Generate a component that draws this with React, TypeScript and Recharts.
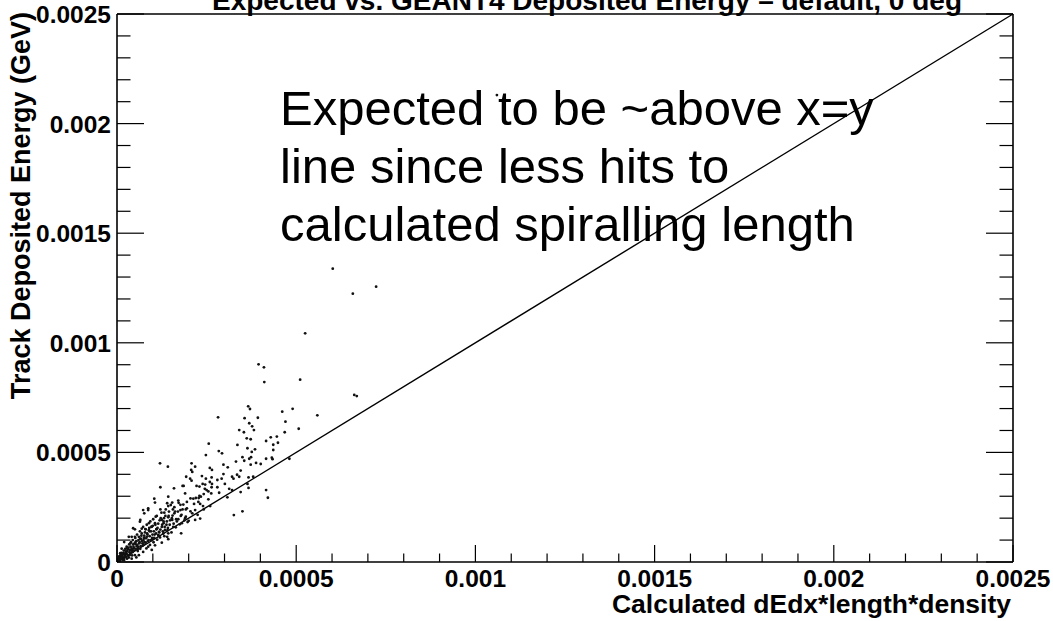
import React from "react";
import { ScatterChart, Scatter, XAxis, YAxis, ReferenceLine } from "recharts";

// hits spread far from the main band (GeV, GeV)
const sparseHits: [number, number][] = [
  [1060e-6, 2130e-6], [602e-6, 1338e-6], [723e-6, 1256e-6], [658e-6, 1224e-6],
  [525e-6, 1043e-6], [395e-6, 902e-6], [410e-6, 888e-6], [411e-6, 821e-6],
  [511e-6, 832e-6], [662e-6, 762e-6], [669e-6, 757e-6], [371e-6, 698e-6],
  [393e-6, 658e-6], [461e-6, 686e-6], [490e-6, 699e-6], [559e-6, 669e-6],
];

// upper part of the band, 0.0002 - 0.0005 GeV
const bandHits: [number, number][] = [
  [366e-6, 710e-6], [282e-6, 660e-6], [356e-6, 656e-6], [369e-6, 633e-6], [377e-6, 619e-6],
  [341e-6, 602e-6], [354e-6, 592e-6], [382e-6, 602e-6], [470e-6, 640e-6], [468e-6, 592e-6],
  [507e-6, 608e-6], [362e-6, 564e-6], [373e-6, 560e-6], [429e-6, 569e-6], [446e-6, 572e-6],
  [416e-6, 552e-6], [436e-6, 535e-6], [449e-6, 544e-6], [336e-6, 534e-6], [256e-6, 540e-6],
  [364e-6, 519e-6], [385e-6, 514e-6], [436e-6, 511e-6], [284e-6, 506e-6], [293e-6, 496e-6],
  [248e-6, 488e-6], [376e-6, 502e-6], [350e-6, 478e-6], [374e-6, 478e-6], [369e-6, 471e-6],
  [432e-6, 476e-6], [434e-6, 469e-6], [416e-6, 471e-6], [481e-6, 471e-6], [332e-6, 458e-6],
  [355e-6, 462e-6], [388e-6, 452e-6], [401e-6, 447e-6], [373e-6, 444e-6], [297e-6, 444e-6],
  [208e-6, 450e-6], [218e-6, 435e-6], [207e-6, 420e-6], [259e-6, 429e-6], [265e-6, 420e-6],
  [309e-6, 432e-6], [345e-6, 417e-6], [335e-6, 398e-6], [341e-6, 389e-6], [321e-6, 389e-6],
  [325e-6, 380e-6], [297e-6, 401e-6], [292e-6, 380e-6], [237e-6, 392e-6], [248e-6, 380e-6],
  [280e-6, 374e-6], [367e-6, 386e-6], [380e-6, 389e-6], [204e-6, 380e-6], [259e-6, 365e-6],
  [265e-6, 356e-6], [239e-6, 356e-6], [230e-6, 344e-6], [222e-6, 347e-6], [250e-6, 328e-6],
  [245e-6, 334e-6], [264e-6, 341e-6], [280e-6, 341e-6], [301e-6, 356e-6], [313e-6, 334e-6],
  [321e-6, 328e-6], [364e-6, 356e-6], [367e-6, 338e-6], [416e-6, 328e-6], [285e-6, 316e-6],
  [263e-6, 313e-6], [234e-6, 298e-6], [228e-6, 292e-6], [308e-6, 295e-6], [345e-6, 319e-6],
  [421e-6, 293e-6], [213e-6, 289e-6], [326e-6, 214e-6], [350e-6, 231e-6],
  [120e-6, 450e-6], [142e-6, 435e-6], [159e-6, 336e-6], [183e-6, 347e-6],
];

// low-energy core near the origin
const coreHits: [number, number][] = [
  [210e-6, 411e-6], [193e-6, 389e-6], [264e-6, 386e-6], [186e-6, 347e-6], [208e-6, 371e-6],
  [246e-6, 353e-6], [121e-6, 341e-6], [143e-6, 298e-6], [190e-6, 313e-6], [242e-6, 310e-6],
  [255e-6, 322e-6], [104e-6, 289e-6], [106e-6, 271e-6], [140e-6, 268e-6], [154e-6, 271e-6],
  [171e-6, 280e-6], [177e-6, 261e-6], [195e-6, 274e-6], [220e-6, 292e-6], [227e-6, 274e-6],
  [232e-6, 265e-6], [255e-6, 286e-6], [87e-6, 237e-6], [121e-6, 240e-6], [132e-6, 225e-6],
  [143e-6, 255e-6], [156e-6, 240e-6], [160e-6, 222e-6], [177e-6, 237e-6], [192e-6, 240e-6],
  [205e-6, 231e-6], [218e-6, 237e-6], [242e-6, 240e-6], [260e-6, 255e-6], [76e-6, 222e-6],
  [65e-6, 192e-6], [108e-6, 207e-6], [89e-6, 177e-6], [106e-6, 177e-6], [125e-6, 192e-6],
  [130e-6, 177e-6], [143e-6, 204e-6], [154e-6, 192e-6], [171e-6, 195e-6], [181e-6, 177e-6],
  [192e-6, 207e-6], [197e-6, 182e-6], [218e-6, 192e-6], [232e-6, 198e-6], [164e-6, 158e-6],
  [50e-6, 149e-6], [69e-6, 152e-6], [80e-6, 149e-6], [91e-6, 140e-6], [97e-6, 161e-6],
  [110e-6, 149e-6], [117e-6, 137e-6], [134e-6, 146e-6], [143e-6, 131e-6], [140e-6, 115e-6],
  [179e-6, 131e-6], [143e-6, 104e-6], [115e-6, 123e-6], [33e-6, 115e-6], [50e-6, 115e-6],
  [65e-6, 106e-6], [83e-6, 115e-6], [97e-6, 100e-6], [20e-6, 91e-6], [37e-6, 85e-6],
  [52e-6, 82e-6], [74e-6, 79e-6], [87e-6, 70e-6], [106e-6, 76e-6], [125e-6, 88e-6],
  [13e-6, 61e-6], [28e-6, 64e-6], [43e-6, 55e-6], [59e-6, 61e-6], [73e-6, 46e-6],
  [97e-6, 55e-6], [9e-6, 40e-6], [22e-6, 36e-6], [35e-6, 31e-6], [50e-6, 31e-6],
  [61e-6, 31e-6], [6e-6, 18e-6], [17e-6, 21e-6], [28e-6, 15e-6], [41e-6, 15e-6],
  [54e-6, 21e-6], [8e-6, 6e-6], [20e-6, 9e-6], [73e-6, 237e-6], [87e-6, 245e-6],
  [64e-6, 184e-6], [45e-6, 154e-6], [41e-6, 115e-6],
];

// densest cluster, below 0.0002 GeV
const denseHits: [number, number][] = [
  [5e-6, 12e-6], [10e-6, 22e-6], [12e-6, 30e-6], [15e-6, 10e-6], [18e-6, 40e-6],
  [22e-6, 28e-6], [25e-6, 48e-6], [28e-6, 35e-6], [30e-6, 58e-6], [33e-6, 20e-6],
  [35e-6, 45e-6], [38e-6, 70e-6], [40e-6, 52e-6], [42e-6, 30e-6], [45e-6, 80e-6],
  [48e-6, 62e-6], [52e-6, 92e-6], [55e-6, 72e-6], [58e-6, 50e-6], [60e-6, 100e-6],
  [62e-6, 85e-6], [65e-6, 60e-6], [68e-6, 120e-6], [70e-6, 95e-6], [72e-6, 75e-6],
  [75e-6, 110e-6], [78e-6, 135e-6], [80e-6, 88e-6], [82e-6, 62e-6], [85e-6, 125e-6],
  [88e-6, 100e-6], [90e-6, 155e-6], [92e-6, 78e-6], [95e-6, 140e-6], [98e-6, 110e-6],
  [100e-6, 165e-6], [102e-6, 90e-6], [105e-6, 125e-6], [110e-6, 150e-6], [112e-6, 102e-6],
  [115e-6, 175e-6], [118e-6, 135e-6], [120e-6, 112e-6], [122e-6, 200e-6], [125e-6, 160e-6],
  [128e-6, 140e-6], [130e-6, 185e-6], [132e-6, 118e-6], [135e-6, 210e-6], [138e-6, 170e-6],
  [142e-6, 155e-6], [145e-6, 230e-6], [148e-6, 190e-6], [152e-6, 135e-6], [155e-6, 212e-6],
  [158e-6, 175e-6], [160e-6, 250e-6], [165e-6, 195e-6], [170e-6, 230e-6], [175e-6, 172e-6],
  [180e-6, 215e-6], [185e-6, 262e-6], [190e-6, 200e-6], [195e-6, 245e-6], [200e-6, 188e-6],
  [205e-6, 290e-6], [210e-6, 222e-6], [215e-6, 265e-6], [225e-6, 215e-6], [230e-6, 302e-6],
  [240e-6, 255e-6],
  [3e-6, 8e-6], [4e-6, 15e-6], [6e-6, 25e-6], [8e-6, 12e-6], [9e-6, 30e-6],
  [11e-6, 18e-6], [13e-6, 42e-6], [14e-6, 25e-6], [16e-6, 33e-6], [19e-6, 15e-6],
  [19e-6, 52e-6], [21e-6, 38e-6], [23e-6, 60e-6], [24e-6, 22e-6], [26e-6, 42e-6],
  [27e-6, 70e-6], [29e-6, 50e-6], [31e-6, 28e-6], [32e-6, 65e-6], [34e-6, 80e-6],
  [36e-6, 55e-6], [37e-6, 38e-6], [39e-6, 90e-6], [41e-6, 62e-6], [43e-6, 45e-6],
  [44e-6, 100e-6], [46e-6, 70e-6], [47e-6, 52e-6], [49e-6, 85e-6], [51e-6, 110e-6],
  [53e-6, 60e-6], [54e-6, 95e-6], [56e-6, 125e-6], [57e-6, 78e-6], [59e-6, 68e-6],
  [61e-6, 115e-6], [63e-6, 90e-6], [64e-6, 140e-6], [66e-6, 72e-6], [67e-6, 105e-6],
  [69e-6, 130e-6], [71e-6, 85e-6], [73e-6, 160e-6], [74e-6, 100e-6], [76e-6, 120e-6],
  [77e-6, 90e-6], [79e-6, 150e-6], [81e-6, 108e-6], [83e-6, 170e-6], [84e-6, 130e-6],
  [86e-6, 95e-6], [89e-6, 145e-6], [91e-6, 118e-6], [93e-6, 185e-6], [94e-6, 100e-6],
  [96e-6, 160e-6], [99e-6, 125e-6], [101e-6, 195e-6], [103e-6, 140e-6], [104e-6, 110e-6],
  [107e-6, 170e-6], [109e-6, 130e-6], [111e-6, 210e-6], [113e-6, 155e-6], [116e-6, 120e-6],
  [119e-6, 190e-6], [121e-6, 148e-6], [124e-6, 225e-6], [126e-6, 170e-6], [129e-6, 130e-6],
  [131e-6, 200e-6], [133e-6, 160e-6], [136e-6, 240e-6], [139e-6, 185e-6], [141e-6, 145e-6],
  [144e-6, 210e-6], [147e-6, 170e-6], [150e-6, 260e-6], [153e-6, 200e-6], [157e-6, 160e-6],
  [162e-6, 230e-6], [167e-6, 185e-6], [172e-6, 270e-6], [178e-6, 210e-6], [183e-6, 240e-6],
  [188e-6, 190e-6],
];

const axisTicks = [
  0, 0.0001, 0.0002, 0.0003, 0.0004, 0.0005, 0.0006, 0.0007, 0.0008, 0.0009,
  0.001, 0.0011, 0.0012, 0.0013, 0.0014, 0.0015, 0.0016, 0.0017, 0.0018, 0.0019,
  0.002, 0.0021, 0.0022, 0.0023, 0.0024, 0.0025,
];
const axisRange: [number, number] = [0, 0.0025];

const title = "Expected vs. GEANT4 Deposited Energy \u2013 default, 0 deg";
const xTitle = "Calculated dEdx*length*density";
const yTitle = "Track Deposited Energy (GeV)";
const note = ["Expected to be ~above x=y", "line since less hits to", "calculated spiralling length"];

const W = 1053;
const H = 621;
// each axis box is 1px deep, so the frame sits at x 117..1013, y 14..562
const margin = { top: 13, right: 39, bottom: 58, left: 116 };
const FONT = "'Liberation Sans', Arial, Helvetica, sans-serif";

const hits = [...sparseHits, ...bandHits, ...coreHits, ...denseHits].map(([x, y]) => ({ x, y }));

const isMajor = (v: number) => Math.abs(Math.round(v / 0.0005) * 0.0005 - v) < 1e-9;

// ROOT style ticks: drawn inward from the frame, labels only on bottom/left
function makeTick(side: "bottom" | "top" | "left" | "right") {
  return (props: any) => {
    const { x, y, payload } = props;
    const v = payload.value as number;
    const major = isMajor(v);
    const horiz = side === "bottom" || side === "top";
    const len = horiz ? (major ? 17 : 8.5) : major ? 27 : 13.5;
    let line;
    if (side === "bottom") line = <line x1={x} x2={x} y1={y} y2={y - len} />;
    else if (side === "top") line = <line x1={x} x2={x} y1={y} y2={y + len} />;
    else if (side === "left") line = <line x1={x} x2={x + len} y1={y} y2={y} />;
    else line = <line x1={x} x2={x - len} y1={y} y2={y} />;
    const label = v === 0 ? "0" : String(v);
    return (
      <g>
        <g stroke="#000" strokeWidth={1.2}>{line}</g>
        {major && side === "bottom" && (
          <text x={x} y={y + 25} textAnchor="middle" fontFamily={FONT} fontWeight="bold" fontSize={24.5} fill="#000">
            {label}
          </text>
        )}
        {major && side === "left" && (
          <text x={x - 6} y={y + 9} textAnchor="end" fontFamily={FONT} fontWeight="bold" fontSize={24.5} fill="#000">
            {label}
          </text>
        )}
      </g>
    );
  };
}

const Dot = (props: any) => <circle cx={props.cx} cy={props.cy} r={1.4} fill="#111" />;

const frameLine = { stroke: "#000", strokeWidth: 1.6 };

export default function App() {
  return (
    <div style={{ position: "absolute", left: 0, top: 0, width: W, height: H, background: "#fff" }}>
      <ScatterChart width={W} height={H} margin={margin}>
        <XAxis
          type="number" dataKey="x" domain={axisRange} ticks={axisTicks} interval={0}
          height={1} tickSize={0} tickMargin={0} axisLine={frameLine} tickLine={false}
          tick={makeTick("bottom")} allowDataOverflow
        />
        <XAxis
          xAxisId="top" orientation="top" type="number" domain={axisRange} ticks={axisTicks} interval={0}
          height={1} tickSize={0} tickMargin={0} axisLine={frameLine} tickLine={false}
          tick={makeTick("top")} allowDataOverflow
        />
        <YAxis
          type="number" dataKey="y" domain={axisRange} ticks={axisTicks} interval={0}
          width={1} tickSize={0} tickMargin={0} axisLine={frameLine} tickLine={false}
          tick={makeTick("left")} allowDataOverflow
        />
        <YAxis
          yAxisId="right" orientation="right" type="number" domain={axisRange} ticks={axisTicks} interval={0}
          width={1} tickSize={0} tickMargin={0} axisLine={frameLine} tickLine={false}
          tick={makeTick("right")} allowDataOverflow
        />
        <ReferenceLine
          segment={[{ x: 0, y: 0 }, { x: 0.0025, y: 0.0025 }]}
          stroke="#000" strokeWidth={1.4} ifOverflow="visible"
        />
        <Scatter data={hits} shape={Dot} isAnimationActive={false} />
      </ScatterChart>
      <svg width={W} height={H} style={{ position: "absolute", left: 0, top: 0, pointerEvents: "none" }}>
        <text x={587} y={10} textAnchor="middle" fontFamily={FONT} fontWeight="bold" fontSize={28} fill="#000">
          {title}
        </text>
        <text x={1011} y={613} textAnchor="end" fontFamily={FONT} fontWeight="bold" fontSize={26.5} fill="#000">
          {xTitle}
        </text>
        <text
          transform="translate(30, 12) rotate(-90)" textAnchor="end"
          fontFamily={FONT} fontWeight="bold" fontSize={27} fill="#000"
        >
          {yTitle}
        </text>
        {note.map((line, i) => (
          <text key={i} x={280} y={125 + i * 58} fontFamily={FONT} fontSize={49} fill="#000">
            {line}
          </text>
        ))}
      </svg>
    </div>
  );
}
